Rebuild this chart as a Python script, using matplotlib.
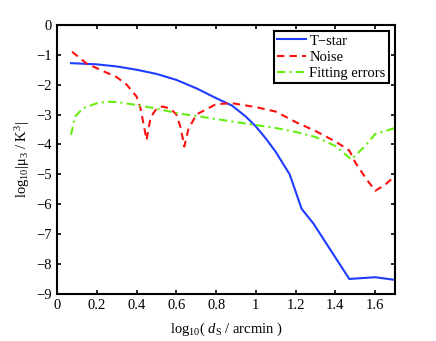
import matplotlib
matplotlib.use("AGG")
import matplotlib.pyplot as plt

plt.rcParams["font.family"] = ["Liberation Serif", "DejaVu Serif"]
plt.rcParams["mathtext.fontset"] = "custom"
plt.rcParams["mathtext.rm"] = "Liberation Serif"
plt.rcParams["mathtext.it"] = "Liberation Serif:italic"

# T-star
tstar_x = [0.07, 0.2, 0.3, 0.4, 0.5, 0.6, 0.7, 0.8, 0.88, 0.95, 1.0, 1.05, 1.1, 1.17, 1.23,
           1.29, 1.47, 1.6, 1.7]
tstar_y = [-1.28, -1.32, -1.39, -1.5, -1.64, -1.84, -2.12, -2.45, -2.7, -3.07, -3.4, -3.8,
           -4.25, -5.0, -6.15, -6.65, -8.5, -8.44, -8.53]

# Noise
noise_x = [0.075, 0.15, 0.2, 0.3, 0.35, 0.4, 0.42, 0.45, 0.47, 0.5, 0.53, 0.57, 0.6, 0.62,
           0.64, 0.66, 0.7, 0.8, 0.88, 1.0, 1.1, 1.2, 1.3, 1.4, 1.47, 1.5, 1.55, 1.6, 1.65, 1.7]
noise_y = [-0.9, -1.3, -1.45, -1.75, -2.0, -2.4, -2.8, -3.85, -3.1, -2.8, -2.73, -2.8, -3.0, -3.4,
           -4.07, -3.5, -3.0, -2.65, -2.62, -2.75, -2.9, -3.25, -3.55, -3.9, -4.2, -4.6, -5.1,
           -5.55, -5.35, -5.05]

# Fitting errors
fit_x = [0.07, 0.09, 0.13, 0.2, 0.25, 0.3, 0.4, 0.5, 0.6, 0.7, 0.8, 0.9, 1.0, 1.1, 1.2, 1.3,
         1.4, 1.48, 1.55, 1.6, 1.7]
fit_y = [-3.68, -3.07, -2.79, -2.62, -2.57, -2.58, -2.68, -2.8, -2.95, -3.05, -3.15, -3.25,
         -3.35, -3.45, -3.58, -3.75, -4.05, -4.5, -4.05, -3.65, -3.45]

fig = plt.figure(figsize=(4.36, 3.41), dpi=100)
ax = fig.add_axes([0.131, 0.138, 0.775, 0.789])

ax.plot(tstar_x, tstar_y, color="#1f3dff", lw=1.5, label="T\u2212star")
ax.plot(noise_x, noise_y, color="#ff1010", lw=1.5, ls=(0, (3.5, 2.5)), label="Noise")
ax.plot(fit_x, fit_y, color="#66ee11", lw=1.5, ls=(0, (4, 2, 1, 2)), label="Fitting errors")

ax.set_xlim(0, 1.7)
ax.set_ylim(-9, 0)
ax.set_xticks([0, 0.2, 0.4, 0.6, 0.8, 1, 1.2, 1.4, 1.6])
ax.set_xticklabels(["0", "0.2", "0.4", "0.6", "0.8", "1", "1.2", "1.4", "1.6"])
ax.set_yticks(range(-9, 1))
ax.set_yticklabels(["\u2212%d" % -v if v < 0 else "0" for v in range(-9, 1)])
ax.tick_params(direction="in", top=True, right=True, length=3, width=1.2, labelsize=10.5, pad=4)
for s in ax.spines.values():
    s.set_linewidth(1.5)

ax.set_xlabel(r"$\mathrm{log}_{10}\mathrm{(}\ d_\mathrm{S}\ \mathrm{/\ arcmin\ )}$", fontsize=10.5, labelpad=6)
ax.set_ylabel(r"$\mathrm{log}_{10}\mathrm{|μ}_3\mathrm{\ /\ K}^3\mathrm{|}$", fontsize=10.5, labelpad=3)

leg = ax.legend(loc="upper right", fontsize=10.5, fancybox=False, framealpha=1,
                edgecolor="black", borderaxespad=0.4, handlelength=2.0, handletextpad=0.2,
                labelspacing=0.2, borderpad=0.25)
leg.get_frame().set_linewidth(1.5)

fig.savefig("out.png", dpi=100)
